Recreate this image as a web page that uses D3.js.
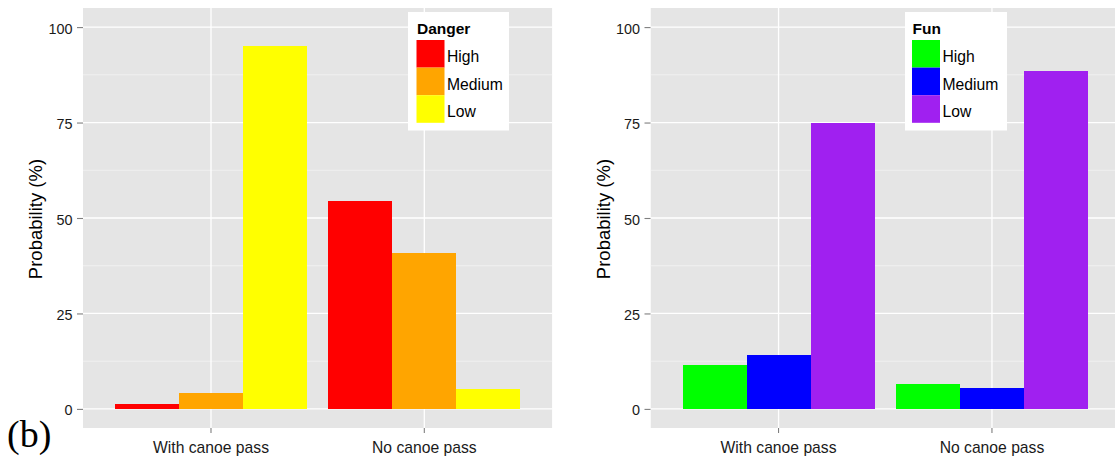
<!DOCTYPE html>
<html>
<head>
<meta charset="utf-8">
<script src="https://cdn.jsdelivr.net/npm/d3@7"></script>
<style>
  html, body { margin: 0; padding: 0; background: #ffffff; }
  svg { display: block; }
  text { font-family: "Liberation Sans", Arial, Helvetica, sans-serif; }
</style>
</head>
<body>
<svg id="chart" width="1115" height="459"></svg>
<script>
// Categories and levels shared by both panels
const categories = ["With canoe pass", "No canoe pass"];
const levels = ["High", "Medium", "Low"];

// Danger probabilities (%), one value per level
const dangerWithPass = [1.3, 4.1, 95.0];
const dangerNoPass = [54.5, 40.9, 5.2];

// Fun probabilities (%), one value per level
const funWithPass = [11.5, 14.1, 74.8];
const funNoPass = [6.5, 5.4, 88.4];

// Axis ticks
const yTicks = [0, 25, 50, 75, 100];
const yMinorTicks = [12.5, 37.5, 62.5, 87.5];
const yTickLabels = ["0", "25", "50", "75", "100"];

// Fill palettes
const dangerColors = ["#FF0000", "#FFA500", "#FFFF00"];
const funColors = ["#00FF00", "#0000FF", "#A020F0"];

const svg = d3.select("#chart");
const plotTop = 8, plotBottom = 428;

function drawPanel(cfg) {
  const g = svg.append("g");
  const table = categories.map((c, i) => ({
    category: c,
    values: levels.map((lv, j) => ({ level: lv, value: cfg.series[i][j], color: cfg.colors[j] }))
  }));

  const x = d3.scaleBand().domain(categories).range([cfg.left, cfg.right])
    .paddingInner(0.1).paddingOuter(0.15);
  const xInner = d3.scaleBand().domain(levels).range([0, x.bandwidth()]);
  const y = d3.scaleLinear().domain([-5, 105]).range([plotBottom, plotTop]);

  const clipId = "clip-" + cfg.id;
  svg.append("clipPath").attr("id", clipId).append("rect")
    .attr("x", cfg.left).attr("y", plotTop)
    .attr("width", cfg.right - cfg.left).attr("height", plotBottom - plotTop);

  const panel = g.append("g").attr("clip-path", `url(#${clipId})`);
  panel.append("rect")
    .attr("x", cfg.left).attr("y", plotTop)
    .attr("width", cfg.right - cfg.left).attr("height", plotBottom - plotTop)
    .attr("fill", "#E5E5E5");

  // minor grid
  panel.selectAll("line.minor").data(yMinorTicks).join("line")
    .attr("x1", cfg.left).attr("x2", cfg.right)
    .attr("y1", d => y(d)).attr("y2", d => y(d))
    .attr("stroke", "#F2F2F2").attr("stroke-width", 0.9);
  // major grid
  panel.selectAll("line.major").data(yTicks).join("line")
    .attr("x1", cfg.left).attr("x2", cfg.right)
    .attr("y1", d => y(d)).attr("y2", d => y(d))
    .attr("stroke", "#FFFFFF").attr("stroke-width", 1.3);
  panel.selectAll("line.vmajor").data(categories).join("line")
    .attr("x1", d => x(d) + x.bandwidth() / 2).attr("x2", d => x(d) + x.bandwidth() / 2)
    .attr("y1", plotTop).attr("y2", plotBottom)
    .attr("stroke", "#FFFFFF").attr("stroke-width", 1.3);

  // bars
  const groups = panel.selectAll("g.cat").data(table).join("g")
    .attr("transform", d => `translate(${x(d.category)},0)`);
  groups.selectAll("rect").data(d => d.values).join("rect")
    .attr("x", d => xInner(d.level))
    .attr("width", xInner.bandwidth())
    .attr("y", d => y(d.value))
    .attr("height", d => y(0) - y(d.value))
    .attr("fill", d => d.color)
    .attr("shape-rendering", "crispEdges");

  // y axis
  const yAxis = d3.axisLeft(y).tickValues(yTicks)
    .tickFormat((d, i) => yTickLabels[i]).tickSize(6).tickPadding(4.5);
  const ya = g.append("g").attr("transform", `translate(${cfg.left},0)`).call(yAxis);
  ya.select(".domain").remove();
  ya.selectAll(".tick line").attr("stroke", "#7F7F7F").attr("stroke-width", 1.1);
  ya.selectAll(".tick text").attr("fill", "#1A1A1A").attr("font-size", "14.4px")
    .attr("dy", "0.42em").style("font-family", '"Liberation Sans", Arial, sans-serif');

  // x axis
  const xAxis = d3.axisBottom(x).tickSize(5).tickPadding(8.5);
  const xa = g.append("g").attr("transform", `translate(0,${plotBottom})`).call(xAxis);
  xa.select(".domain").remove();
  xa.selectAll(".tick line").attr("stroke", "#7F7F7F").attr("stroke-width", 1.1);
  xa.selectAll(".tick text").attr("fill", "#1A1A1A").attr("font-size", "15.7px")
    .style("font-family", '"Liberation Sans", Arial, sans-serif');

  // y title
  g.append("text")
    .attr("transform", `translate(${cfg.titleX},${(plotTop + plotBottom) / 2 + 1}) rotate(-90)`)
    .attr("text-anchor", "middle")
    .attr("font-size", "18.5px").attr("fill", "#000")
    .text("Probability (%)");

  // legend
  const lg = g.append("g").attr("transform", `translate(${cfg.legendX},12)`);
  lg.append("rect").attr("width", cfg.legendW).attr("height", 118.5).attr("fill", "#FFFFFF");
  lg.append("text").attr("x", cfg.keyDX + 0.5).attr("y", 22)
    .attr("font-size", "15.5px").attr("font-weight", "bold").attr("fill", "#000")
    .text(cfg.title);
  const keyH = 27.6, keyW = 28, keyTop = 28;
  const items = lg.selectAll("g.key").data(levels).join("g")
    .attr("transform", (d, i) => `translate(${cfg.keyDX},${keyTop + i * keyH})`);
  items.append("rect").attr("width", keyW).attr("height", keyH)
    .attr("fill", (d, i) => cfg.colors[i]);
  items.append("text").attr("x", keyW + 2.5).attr("y", keyH / 2 + 8.5)
    .attr("font-size", "15.7px").attr("fill", "#000").text(d => d);
}

drawPanel({
  id: "danger", title: "Danger", left: 83, right: 552.3,
  series: [dangerWithPass, dangerNoPass], colors: dangerColors,
  titleX: 42, legendX: 408, legendW: 101, keyDX: 8.5
});
drawPanel({
  id: "fun", title: "Fun", left: 650.5, right: 1120,
  series: [funWithPass, funNoPass], colors: funColors,
  titleX: 609.5, legendX: 905, legendW: 102, keyDX: 7
});

// panel tag
svg.append("text").attr("x", 7).attr("y", 447)
  .style("font-family", '"Liberation Serif", "Times New Roman", serif')
  .attr("font-size", "38px").attr("fill", "#000").text("(b)");
</script>
</body>
</html>
